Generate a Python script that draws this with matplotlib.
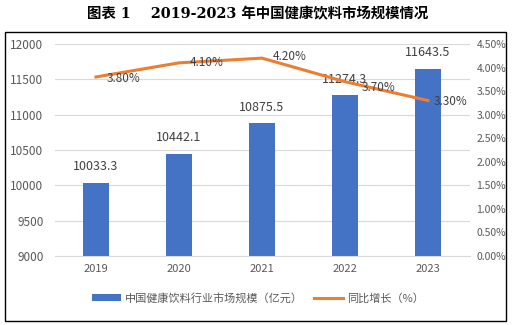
import matplotlib
matplotlib.use("Agg")
import matplotlib.pyplot as plt
from matplotlib.patches import Rectangle
from matplotlib.ticker import FuncFormatter

plt.rcParams['font.family'] = ['Noto Sans CJK SC', 'DejaVu Sans']

years = ["2019", "2020", "2021", "2022", "2023"]
market_size = [10033.3, 10442.1, 10875.5, 11274.3, 11643.5]
growth = [3.80, 4.10, 4.20, 3.70, 3.30]
bar_label = "中国健康饮料行业市场规模（亿元）"
line_label = "同比增长（%）"
title = "图表 1    2019-2023 年中国健康饮料市场规模情况"

W, H = 516, 325
fig = plt.figure(figsize=(W/100, H/100), dpi=100)

def fx(px): return px / W
def fy(py): return 1 - py / H

# frame
fig.patches.append(Rectangle((fx(5), fy(321)), fx(506) - fx(5), fy(32) - fy(321),
                             transform=fig.transFigure, fill=False, edgecolor='black', lw=1.0))

fig.text(0.5, fy(14), title, ha='center', va='center', fontsize=10.4, fontweight='bold',
         family=['DejaVu Serif', 'Noto Sans CJK SC'])

left, right, top, bottom = 54.5, 469.5, 44, 256
ax = fig.add_axes([fx(left), fy(bottom), fx(right) - fx(left), fy(top) - fy(bottom)])
ax2 = ax.twinx()

x = list(range(len(years)))
ax.bar(x, market_size, width=0.32, color='#4472C4', label=bar_label, zorder=2)
ax.set_ylim(9000, 12000)
ax.set_yticks(range(9000, 12001, 500))
ax.set_xlim(-0.5, len(years) - 0.5)
ax.set_xticks(x)
ax.set_xticklabels(years)
ax.grid(axis='y', color='#D9D9D9', lw=0.8, zorder=0)
ax.set_axisbelow(True)
for s in ax.spines.values():
    s.set_visible(False)
for s in ax2.spines.values():
    s.set_visible(False)
ax.spines['bottom'].set_visible(True)
ax.spines['bottom'].set_color('#D9D9D9')
ax.tick_params(axis='y', length=0, labelsize=8.5, colors='#595959', pad=8)
ax.tick_params(axis='x', length=0, labelsize=8, colors='#595959', pad=6)

for xi, v in zip(x, market_size):
    ax.annotate(f"{v:g}", (xi, v), xytext=(0, 7), textcoords='offset points',
                ha='center', va='bottom', fontsize=9, color='#404040')

ax2.plot(x, growth, color='#ED7D31', lw=2.2, label=line_label, zorder=3)
ax2.set_ylim(0, 4.5)
ax2.set_yticks([i * 0.5 for i in range(10)])
ax2.yaxis.set_major_formatter(FuncFormatter(lambda v, p: f"{v:.2f}%"))
ax2.tick_params(axis='y', length=0, labelsize=7.5, colors='#595959', pad=5)
offsets = [(8, -1), (8, 0), (8, 1), (12, -4), (4, -1)]
for xi, g, off in zip(x, growth, offsets):
    ax2.annotate(f"{g:.2f}%", (xi, g), xytext=off, textcoords='offset points',
                 ha='left', va='center', fontsize=8.5, color='#404040')

h1, l1 = ax.get_legend_handles_labels()
h2, l2 = ax2.get_legend_handles_labels()
fig.legend(h1 + h2, l1 + l2, loc='center', bbox_to_anchor=(0.5, fy(298)), ncol=2,
           frameon=False, fontsize=8, labelcolor='#595959', handlelength=2.6,
           handleheight=0.7, columnspacing=1.0, handletextpad=0.4)

fig.savefig("out.png", dpi=100)
